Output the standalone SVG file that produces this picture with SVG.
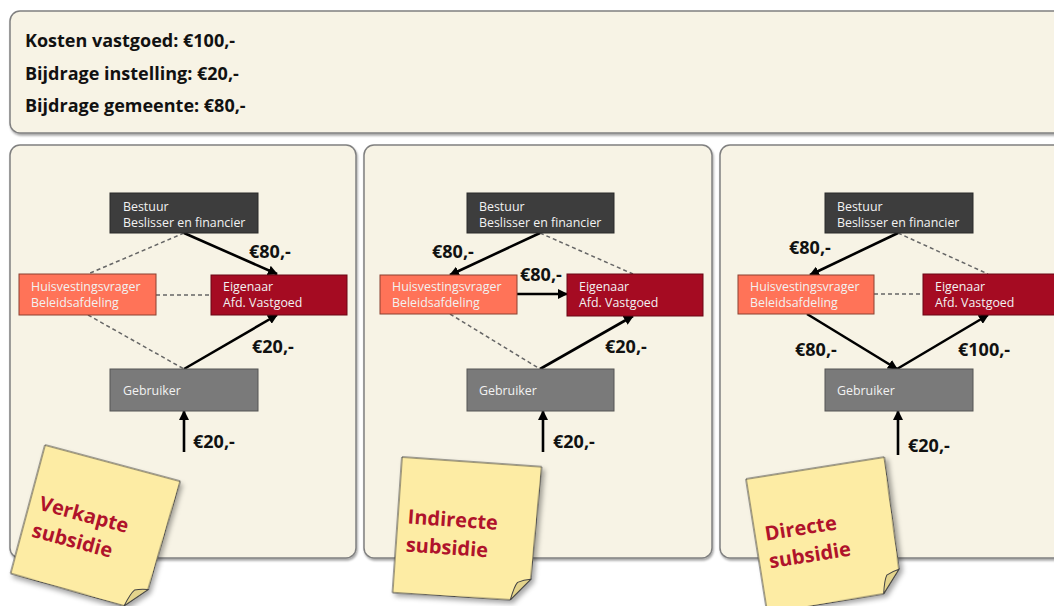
<svg xmlns="http://www.w3.org/2000/svg" width="1054" height="606" viewBox="0 0 1054 606">
<defs>
<filter id="sh" x="-10%" y="-10%" width="120%" height="130%"><feDropShadow dx="1" dy="2" stdDeviation="1.2" flood-color="#000" flood-opacity="0.35"/></filter>
<filter id="nsh" x="-20%" y="-20%" width="150%" height="150%"><feDropShadow dx="3" dy="3" stdDeviation="2.5" flood-color="#000" flood-opacity="0.35"/></filter>
<marker id="ah" viewBox="0 0 10 10" refX="9" refY="5" markerWidth="10" markerHeight="10" markerUnits="userSpaceOnUse" orient="auto"><path d="M0,0 L10,5 L0,10 z" fill="#000"/></marker>
<style>
.panel{fill:#f7f3e5;stroke:#808080;stroke-width:1.5}
.hd{font-family:"Open Sans","DejaVu Sans",sans-serif;font-weight:bold;font-size:18px;fill:#111}
.nt{font-family:"Open Sans","DejaVu Sans",sans-serif;font-size:12.4px;fill:#f2f2f2}
.lb{font-family:"Open Sans","DejaVu Sans",sans-serif;font-weight:bold;font-size:18px;fill:#111}
.bes{fill:#3d3d3d;stroke:#2a2a2a;stroke-width:1}
.hui{fill:#ff7358;stroke:#8a4030;stroke-width:1}
.eig{fill:#a50b22;stroke:#6a0715;stroke-width:1}
.geb{fill:#7a7a7a;stroke:#555;stroke-width:1}
.sol{stroke:#000;stroke-width:2.6;fill:none;marker-end:url(#ah)}
.dsh{stroke:#666;stroke-width:1.5;stroke-dasharray:4 3;fill:none}
.note{fill:#fdeca4;stroke:#444;stroke-width:1}
.fold{fill:#e4d48c;stroke:#444;stroke-width:1}
.nx{font-family:"Open Sans","DejaVu Sans",sans-serif;font-weight:bold;font-size:20px;fill:#b0132b}
</style>
</defs>

<g id="header">
<rect x="10" y="11" width="1060" height="122" rx="10" class="panel" filter="url(#sh)"/>
<text class="hd" x="25" y="47">Kosten vastgoed: €100,-</text>
<text class="hd" x="25" y="80">Bijdrage instelling: €20,-</text>
<text class="hd" x="25" y="112">Bijdrage gemeente: €80,-</text>
</g>

<g id="panels">
<rect id="panel1" x="10" y="145" width="346" height="413" rx="10" class="panel" filter="url(#sh)"/>
<rect id="panel2" x="364" y="145" width="348" height="413" rx="10" class="panel" filter="url(#sh)"/>
<rect id="panel3" x="720" y="145" width="360" height="413" rx="10" class="panel" filter="url(#sh)"/>
</g>

<g id="connectors">
<!-- panel 1 -->
<line class="dsh" x1="184" y1="233" x2="88" y2="274"/>
<line class="dsh" x1="156" y1="295" x2="211" y2="295"/>
<line class="dsh" x1="88" y1="315" x2="184" y2="369"/>
<line class="sol" x1="184" y1="233" x2="277" y2="274"/>
<line class="sol" x1="184" y1="369" x2="277" y2="315"/>
<line class="sol" x1="184" y1="452" x2="184" y2="411"/>
<!-- panel 2 -->
<line class="dsh" x1="540" y1="233" x2="633" y2="274"/>
<line class="dsh" x1="450" y1="314" x2="540" y2="369"/>
<line class="sol" x1="540" y1="233" x2="450" y2="275"/>
<line class="sol" x1="517" y1="294" x2="567" y2="294"/>
<line class="sol" x1="540" y1="369" x2="633" y2="316"/>
<line class="sol" x1="543" y1="452" x2="543" y2="411"/>
<!-- panel 3 -->
<line class="dsh" x1="898" y1="233" x2="988" y2="274"/>
<line class="dsh" x1="874" y1="294" x2="923" y2="294"/>
<line class="sol" x1="898" y1="233" x2="810" y2="275"/>
<line class="sol" x1="807" y1="314" x2="897" y2="369"/>
<line class="sol" x1="897" y1="369" x2="988" y2="315"/>
<line class="sol" x1="898" y1="455" x2="898" y2="411"/>
<!-- labels -->
<text class="lb" x="249" y="258">€80,-</text>
<text class="lb" x="252" y="353">€20,-</text>
<text class="lb" x="193" y="448">€20,-</text>
<text class="lb" x="432" y="258">€80,-</text>
<text class="lb" x="520" y="281">€80,-</text>
<text class="lb" x="605" y="353">€20,-</text>
<text class="lb" x="553" y="448">€20,-</text>
<text class="lb" x="789" y="254">€80,-</text>
<text class="lb" x="795" y="356">€80,-</text>
<text class="lb" x="958" y="356">€100,-</text>
<text class="lb" x="908" y="452">€20,-</text>
</g>

<g id="p1-bestuur"><rect x="110" y="193" width="148" height="40" class="bes"/><text class="nt" x="123" y="211">Bestuur</text><text class="nt" x="123" y="227">Beslisser en financier</text></g>
<g id="p1-huisvesting"><rect x="19" y="274" width="137" height="41" class="hui"/><text class="nt" x="31" y="291">Huisvestingsvrager</text><text class="nt" x="31" y="307">Beleidsafdeling</text></g>
<g id="p1-eigenaar"><rect x="211" y="275" width="136" height="40" class="eig"/><text class="nt" x="223" y="291">Eigenaar</text><text class="nt" x="223" y="307">Afd. Vastgoed</text></g>
<g id="p1-gebruiker"><rect x="110" y="369" width="148" height="42" class="geb"/><text class="nt" x="123" y="395">Gebruiker</text></g>

<g id="p2-bestuur"><rect x="467" y="193" width="147" height="40" class="bes"/><text class="nt" x="479" y="211">Bestuur</text><text class="nt" x="479" y="227">Beslisser en financier</text></g>
<g id="p2-huisvesting"><rect x="380" y="275" width="137" height="39" class="hui"/><text class="nt" x="392" y="291">Huisvestingsvrager</text><text class="nt" x="392" y="307">Beleidsafdeling</text></g>
<g id="p2-eigenaar"><rect x="567" y="274" width="136" height="42" class="eig"/><text class="nt" x="579" y="291">Eigenaar</text><text class="nt" x="579" y="307">Afd. Vastgoed</text></g>
<g id="p2-gebruiker"><rect x="467" y="369" width="147" height="42" class="geb"/><text class="nt" x="479" y="395">Gebruiker</text></g>

<g id="p3-bestuur"><rect x="825" y="193" width="148" height="40" class="bes"/><text class="nt" x="837" y="211">Bestuur</text><text class="nt" x="837" y="227">Beslisser en financier</text></g>
<g id="p3-huisvesting"><rect x="738" y="275" width="136" height="39" class="hui"/><text class="nt" x="750" y="291">Huisvestingsvrager</text><text class="nt" x="750" y="307">Beleidsafdeling</text></g>
<g id="p3-eigenaar"><rect x="923" y="274" width="140" height="41" class="eig"/><text class="nt" x="935" y="291">Eigenaar</text><text class="nt" x="935" y="307">Afd. Vastgoed</text></g>
<g id="p3-gebruiker"><rect x="825" y="369" width="148" height="42" class="geb"/><text class="nt" x="837" y="395">Gebruiker</text></g>

<g id="note1" transform="translate(45,445) rotate(15)">
<path class="note" filter="url(#nsh)" d="M0,0 L140,0 L137,113 L118,135 L0,133 Z"/>
<path class="fold" d="M137,113 L118,135 Q121,121 124,117 Q130,114 137,113 Z"/>
<text class="nx" x="10" y="64">Verkapte</text>
<text class="nx" x="10" y="92">subsidie</text>
</g>
<g id="note2" transform="translate(402,457) rotate(4)">
<path class="note" filter="url(#nsh)" d="M0,0 L140,0 L137,113 L118,135 L0,136 Z"/>
<path class="fold" d="M137,113 L118,135 Q121,121 124,117 Q130,114 137,113 Z"/>
<text class="nx" x="10" y="66">Indirecte</text>
<text class="nx" x="10" y="94">subsidie</text>
</g>
<g id="note3" transform="translate(746,479) rotate(-9)">
<path class="note" filter="url(#nsh)" d="M0,0 L140,0 L137,113 L118,135 L0,136 Z"/>
<path class="fold" d="M137,113 L118,135 Q121,121 124,117 Q130,114 137,113 Z"/>
<text class="nx" x="10" y="64">Directe</text>
<text class="nx" x="10" y="92">subsidie</text>
</g>
</svg>
